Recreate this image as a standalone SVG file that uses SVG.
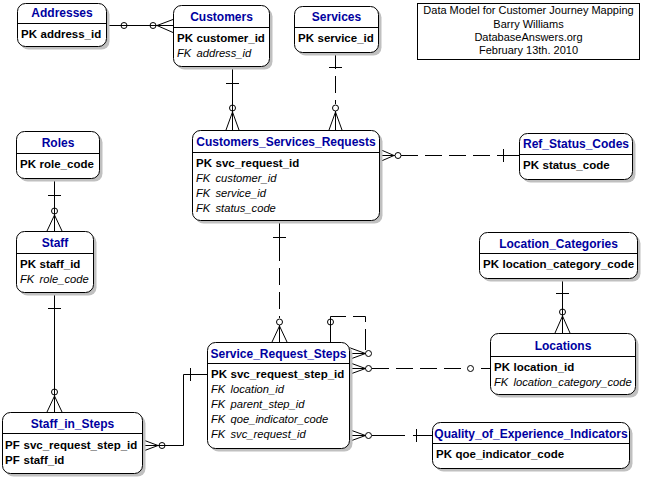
<svg xmlns="http://www.w3.org/2000/svg" width="648" height="480" viewBox="0 0 648 480">
<style>
  .sh{fill:#c0c0c0;stroke:none}
  .bx{fill:#fff;stroke:#000;stroke-width:1}
  .hl{stroke:#000;stroke-width:1}
  .tt{font-family:"Liberation Sans",Arial,sans-serif;font-size:12px;font-weight:bold;fill:#0000a0;text-anchor:middle}
  .pk{font-family:"Liberation Sans",Arial,sans-serif;font-size:11.5px;font-weight:bold;fill:#000}
  .fk{font-family:"Liberation Sans",Arial,sans-serif;font-size:11.2px;font-style:italic;fill:#000}
  .ti{font-family:"Liberation Sans",Arial,sans-serif;font-size:11px;fill:#000;text-anchor:middle}
  .ln{stroke:#000;stroke-width:1;fill:none}
  .dl{stroke:#000;stroke-width:1;fill:none;stroke-dasharray:17 7}
  .ci{stroke:#000;stroke-width:1;fill:none}
</style>
<rect width="648" height="480" fill="#fff"/>

<g id="connectors">
  <!-- Addresses - Customers -->
  <path class="ln" d="M106,25.5H173"/>
  <circle class="ci" cx="124" cy="25.5" r="3"/>
  <circle class="ci" cx="153" cy="25.5" r="3"/>
  <path class="ln" d="M157,25.5L173,19.5M157,25.5L173,32.5"/>
  <!-- Customers - CSR -->
  <path class="ln" d="M232.5,66V130M226,83.5H239"/>
  <circle class="ci" cx="232.5" cy="108" r="3"/>
  <path class="ln" d="M232.5,112L226,130M232.5,112L239,130"/>
  <!-- Services - CSR -->
  <path class="dl" d="M335.5,52V104"/>
  <path class="ln" d="M335.5,111V130M329,67.5H342"/>
  <circle class="ci" cx="335.5" cy="108" r="3"/>
  <path class="ln" d="M335.5,112L329,130M335.5,112L342,130"/>
  <!-- CSR - Ref_Status_Codes -->
  <path class="ln" d="M379,155.5H395"/>
  <circle class="ci" cx="398" cy="155.5" r="3"/>
  <path class="dl" d="M401,155.5H497"/>
  <path class="ln" d="M497,155.5H519M503.5,149V162"/>
  <path class="ln" d="M394,155.5L379,149M394,155.5L379,162"/>
  <!-- CSR - SRS -->
  <path class="ln" d="M279.5,220V244M273,237.5H286"/>
  <path class="dl" d="M279.5,244V318"/>
  <circle class="ci" cx="279.5" cy="322" r="3"/>
  <path class="ln" d="M279.5,325V342M279.5,326L272,342M279.5,326L287,342"/>
  <!-- SRS self loop -->
  <path class="ln" d="M330.5,342V319M330.5,325V316.5H346"/>
  <circle class="ci" cx="330.5" cy="322" r="3"/>
  <path class="ln" d="M353,316.5H365.5V322"/>
  <path class="ln" d="M365.5,329V350"/>
  <circle class="ci" cx="368.5" cy="353.5" r="3"/>
  <path class="ln" d="M349,353.5H365.5M365.5,353.5L349,347.5M365.5,353.5L349,359.5"/>
  <!-- Roles - Staff -->
  <path class="ln" d="M54.5,178V231M48,195.5H61"/>
  <circle class="ci" cx="54.5" cy="211" r="3"/>
  <path class="ln" d="M54.5,215L47,231M54.5,215L62,231"/>
  <!-- Staff - Staff_in_Steps -->
  <path class="ln" d="M54.5,292V412M48,308.5H61"/>
  <circle class="ci" cx="54.5" cy="392" r="3"/>
  <path class="ln" d="M54.5,396L47,412M54.5,396L62,412"/>
  <!-- Staff_in_Steps - SRS -->
  <path class="ln" d="M142,445.5H183.5V374.5H207M190.5,368V381"/>
  <circle class="ci" cx="162" cy="445.5" r="3"/>
  <path class="ln" d="M158,445.5L142,439.5M158,445.5L142,451.5"/>
  <!-- Location_Categories - Locations -->
  <path class="ln" d="M562.5,278V333M556,293.5H569"/>
  <circle class="ci" cx="562.5" cy="312" r="3"/>
  <path class="ln" d="M562.5,316L555,333M562.5,316L570,333"/>
  <!-- SRS - Locations -->
  <path class="ln" d="M349,368.5H365.5M365.5,368.5L349,362.5M365.5,368.5L349,374.5"/>
  <circle class="ci" cx="368.5" cy="368.5" r="3"/>
  <path class="dl" d="M372,368.5H467"/>
  <circle class="ci" cx="470.5" cy="368.5" r="3"/>
  <path class="ln" d="M481,368.5H490"/>
  <!-- SRS - QoE -->
  <path class="ln" d="M349,435.5H365.5M365.5,435.5L349,429.5M365.5,435.5L349,441.5"/>
  <circle class="ci" cx="368.5" cy="435.5" r="3"/>
  <path class="ln" d="M372,435.5H405M413,435.5H432M416.5,429V442"/>
</g>

<g id="title">
  <rect x="417.5" y="3.5" width="222" height="56" fill="#fff" stroke="#000"/>
  <text class="ti" x="528.5" y="14">Data Model for Customer Journey Mapping</text>
  <text class="ti" x="528.5" y="28">Barry Williams</text>
  <text class="ti" x="528.5" y="41">DatabaseAnswers.org</text>
  <text class="ti" x="528.5" y="54">February 13th. 2010</text>
</g>

<g id="Addresses">
  <rect class="sh" x="20.5" y="6.5" width="89" height="43" rx="8"/>
  <rect class="bx" x="17.5" y="3.5" width="89" height="43" rx="8"/>
  <path class="hl" d="M17.5,23.5H106.5"/>
  <text class="tt" x="62" y="17">Addresses</text>
  <text class="pk" x="21" y="37.5">PK<tspan x="40.5">address_id</tspan></text>
</g>

<g id="Customers">
  <rect class="sh" x="176.5" y="8.5" width="96" height="61" rx="8"/>
  <rect class="bx" x="173.5" y="5.5" width="96" height="61" rx="8"/>
  <path class="hl" d="M173.5,27.5H269.5"/>
  <text class="tt" x="221.5" y="20.5">Customers</text>
  <text class="pk" x="177" y="41.5">PK<tspan x="196.5">customer_id</tspan></text>
  <text class="fk" x="177" y="56.5">FK<tspan x="196.5">address_id</tspan></text>
</g>

<g id="Services">
  <rect class="sh" x="297.5" y="9.5" width="84" height="46" rx="8"/>
  <rect class="bx" x="294.5" y="6.5" width="84" height="46" rx="8"/>
  <path class="hl" d="M294.5,27.5H378.5"/>
  <text class="tt" x="336.5" y="21">Services</text>
  <text class="pk" x="298" y="42">PK<tspan x="317.5">service_id</tspan></text>
</g>

<g id="Customers_Services_Requests">
  <rect class="sh" x="195.5" y="133.5" width="187" height="90" rx="8"/>
  <rect class="bx" x="192.5" y="130.5" width="187" height="90" rx="8"/>
  <path class="hl" d="M192.5,152.5H379.5"/>
  <text class="tt" x="286" y="145.5">Customers_Services_Requests</text>
  <text class="pk" x="196" y="166.5">PK<tspan x="215.5">svc_request_id</tspan></text>
  <text class="fk" x="196" y="181.5">FK<tspan x="215.5">customer_id</tspan></text>
  <text class="fk" x="196" y="196.5">FK<tspan x="215.5">service_id</tspan></text>
  <text class="fk" x="196" y="211.5">FK<tspan x="215.5">status_code</tspan></text>
</g>

<g id="Ref_Status_Codes">
  <rect class="sh" x="522.5" y="136.5" width="113" height="46" rx="8"/>
  <rect class="bx" x="519.5" y="133.5" width="113" height="46" rx="8"/>
  <path class="hl" d="M519.5,154.5H632.5"/>
  <text class="tt" x="576" y="148">Ref_Status_Codes</text>
  <text class="pk" x="523" y="169">PK<tspan x="542.5">status_code</tspan></text>
</g>

<g id="Roles">
  <rect class="sh" x="19.5" y="134.5" width="83" height="47" rx="8"/>
  <rect class="bx" x="16.5" y="131.5" width="83" height="47" rx="8"/>
  <path class="hl" d="M16.5,153.5H99.5"/>
  <text class="tt" x="58" y="146.5">Roles</text>
  <text class="pk" x="20" y="167.5">PK<tspan x="39.5">role_code</tspan></text>
</g>

<g id="Staff">
  <rect class="sh" x="19.5" y="234.5" width="77" height="61" rx="8"/>
  <rect class="bx" x="16.5" y="231.5" width="77" height="61" rx="8"/>
  <path class="hl" d="M16.5,253.5H93.5"/>
  <text class="tt" x="55" y="246.5">Staff</text>
  <text class="pk" x="20" y="267.5">PK<tspan x="39.5">staff_id</tspan></text>
  <text class="fk" x="20" y="282.5">FK<tspan x="39.5">role_code</tspan></text>
</g>

<g id="Location_Categories">
  <rect class="sh" x="482.5" y="235.5" width="158" height="46" rx="8"/>
  <rect class="bx" x="479.5" y="232.5" width="158" height="46" rx="8"/>
  <path class="hl" d="M479.5,253.5H637.5"/>
  <text class="tt" x="558.5" y="247.5">Location_Categories</text>
  <text class="pk" x="483" y="268">PK<tspan x="502.5">location_category_code</tspan></text>
</g>

<g id="Locations">
  <rect class="sh" x="493.5" y="336.5" width="145" height="61" rx="8"/>
  <rect class="bx" x="490.5" y="333.5" width="145" height="61" rx="8"/>
  <path class="hl" d="M490.5,356.5H635.5"/>
  <text class="tt" x="563" y="349.5">Locations</text>
  <text class="pk" x="494" y="370.5">PK<tspan x="513.5">location_id</tspan></text>
  <text class="fk" x="494" y="385.5">FK<tspan x="513.5">location_category_code</tspan></text>
</g>

<g id="Service_Request_Steps">
  <rect class="sh" x="210.5" y="345.5" width="142" height="106" rx="8"/>
  <rect class="bx" x="207.5" y="342.5" width="142" height="106" rx="8"/>
  <path class="hl" d="M207.5,363.5H349.5"/>
  <text class="tt" x="278.5" y="357.5">Service_Request_Steps</text>
  <text class="pk" x="211" y="378">PK<tspan x="230.5">svc_request_step_id</tspan></text>
  <text class="fk" x="211" y="393">FK<tspan x="230.5">location_id</tspan></text>
  <text class="fk" x="211" y="408">FK<tspan x="230.5">parent_step_id</tspan></text>
  <text class="fk" x="211" y="423">FK<tspan x="230.5">qoe_indicator_code</tspan></text>
  <text class="fk" x="211" y="438">FK<tspan x="230.5">svc_request_id</tspan></text>
</g>

<g id="Staff_in_Steps">
  <rect class="sh" x="5.5" y="415.5" width="140" height="61" rx="8"/>
  <rect class="bx" x="2.5" y="412.5" width="140" height="61" rx="8"/>
  <path class="hl" d="M2.5,433.5H142.5"/>
  <text class="tt" x="72.5" y="427.5">Staff_in_Steps</text>
  <text class="pk" x="5" y="449">PF<tspan x="23.5">svc_request_step_id</tspan></text>
  <text class="pk" x="5" y="464">PF<tspan x="23.5">staff_id</tspan></text>
</g>

<g id="Quality_of_Experience_Indicators">
  <rect class="sh" x="435.5" y="425.5" width="197" height="46" rx="8"/>
  <rect class="bx" x="432.5" y="422.5" width="197" height="46" rx="8"/>
  <path class="hl" d="M432.5,443.5H629.5"/>
  <text class="tt" x="531" y="437.5">Quality_of_Experience_Indicators</text>
  <text class="pk" x="436" y="458">PK<tspan x="455.5">qoe_indicator_code</tspan></text>
</g>
</svg>
